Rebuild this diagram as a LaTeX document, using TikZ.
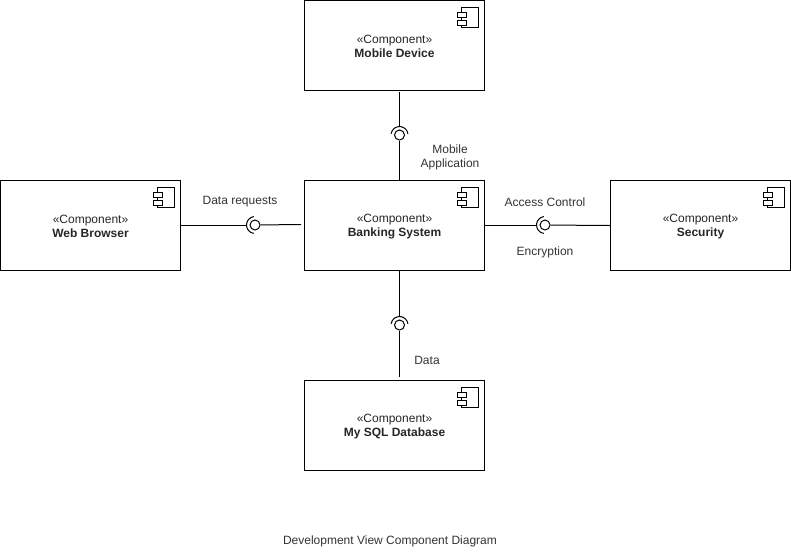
\documentclass[tikz,border=0pt]{standalone}
\usepackage{fontspec}
\setmainfont{Liberation Sans}

\newcommand{\stereotype}[1]{\rule{0pt}{8.3pt}«Component»\\\textbf{#1}}

\begin{document}
\begin{tikzpicture}[
	x=0.75pt, y=-0.75pt,
	line width=0.75pt,
	component/.style={rectangle, draw=black, minimum width=135pt, minimum height=67.5pt, inner sep=0pt, align=center, font=\fontsize{9}{10.5}\selectfont, text=black!85},
	ball/.style={circle, draw=black, minimum size=7.5pt, inner sep=0pt},
	socket/.style={draw=black},
	wire/.style={draw=black},
	note/.style={align=center, inner sep=0pt, font=\fontsize{9}{10.5}\selectfont, text=black!80},
]
	\useasboundingbox (0, 0) rectangle (791, 551);

	% Components, one box each
	\node[component] (mobile) at (394.5, 45.5) {\stereotype{Mobile Device}};
	\node[component] (bank) at (394.5, 225.5) {\stereotype{Banking System}};
	\node[component] (web) at (90.5, 225.5) {\stereotype{Web Browser}};
	\node[component] (security) at (700.5, 225.5) {\stereotype{Security}};
	\node[component] (database) at (394.5, 425.5) {\stereotype{My SQL Database}};

	% Component icon in the top right corner of each box
	\foreach \b in {mobile, bank, web, security, database} {
		\begin{scope}[shift={(\b.north east)}]
			\draw (-23.5, 7) rectangle (-6.5, 27);
			\draw[fill=white] (-27.5, 12) rectangle (-18.5, 17);
			\draw[fill=white] (-27.5, 20) rectangle (-18.5, 25);
		\end{scope}
	}

	% Lollipop balls
	\node[ball] (ballmobile) at (399.5, 135) {};
	\node[ball] (ballweb) at (255, 225) {};
	\node[ball] (ballsecurity) at (545, 225) {};
	\node[ball] (balldata) at (399.5, 325) {};

	% Sockets around the balls
	\foreach \b/\angle in {ballmobile/270, balldata/270, ballweb/180, ballsecurity/180} {
		\draw[socket] (\b.center) ++(\angle - 82:8.5) arc[start angle=\angle - 82, end angle=\angle + 82, radius=8.5];
	}

	% Free ends of the wires
	\coordinate (endmobile) at (399.5, 92);
	\coordinate (sockmobile) at (399.5, 127);
	\coordinate (sockdata) at (399.5, 317);
	\coordinate (enddata) at (399.5, 377);
	\coordinate (sockweb) at (247, 225);
	\coordinate (endweb) at (301, 224.5);
	\coordinate (socksecurity) at (537, 225);

	% Wires
	\draw[wire] (endmobile) -- (sockmobile);
	\draw[wire] (ballmobile) -- (ballmobile |- bank.north);
	\draw[wire] (ballweb -| web.east) -- (sockweb);
	\draw[wire] (ballweb) -- (endweb);
	\draw[wire] (ballsecurity -| bank.east) -- (socksecurity);
	\draw[wire] (ballsecurity) -- (security.west);
	\draw[wire] (balldata |- bank.south) -- (sockdata);
	\draw[wire] (balldata) -- (enddata);

	% Labels
	\node[note] (lblmobile) at (450, 157.5) {Mobile\\Application};
	\node[note] (lblweb) at (240, 202) {Data requests};
	\node[note] (lblaccess) at (545, 202) {Access Control};
	\node[note] (lblcrypt) at (545, 252) {Encryption};
	\node[note] (lbldata) at (427, 360.5) {Data};
	\node[note] (title) at (390, 541.5) {Development View Component Diagram};
\end{tikzpicture}
\end{document}
